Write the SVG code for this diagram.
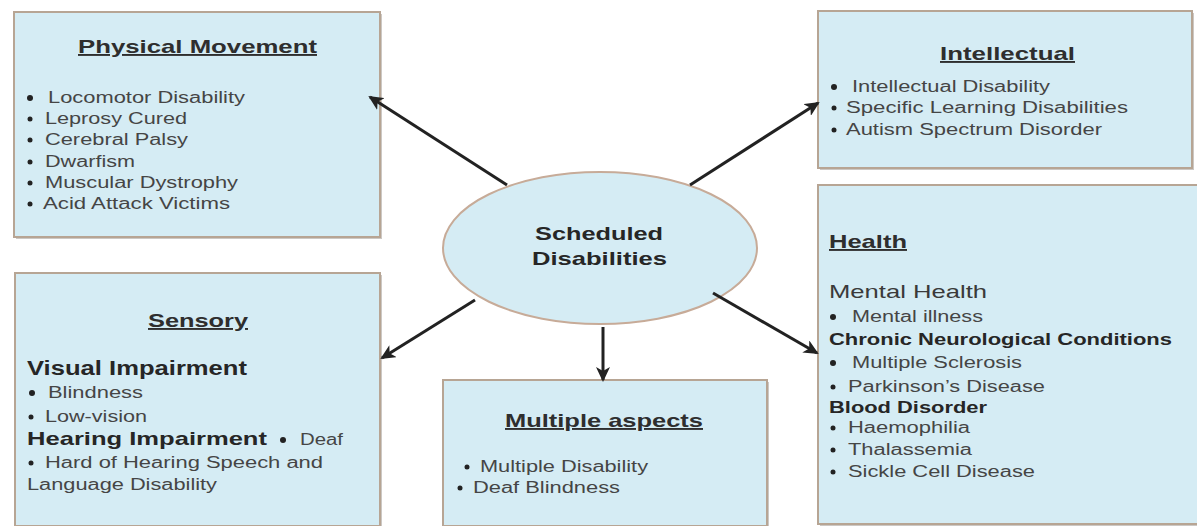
<svg xmlns="http://www.w3.org/2000/svg" width="1197" height="526" viewBox="0 0 1197 526">
<style>
.box{fill:#d5ecf4;stroke:#b7a594;stroke-width:2}
.sh{fill:#9a9189;opacity:0.5}
.t{font-family:"Liberation Sans",Arial,sans-serif;font-weight:bold;fill:#2e2e2e;text-decoration:underline}
.i{font-family:"Liberation Sans",Arial,sans-serif;fill:#454545;font-size:16px}
.h{font-family:"Liberation Sans",Arial,sans-serif;font-weight:bold;fill:#262626}
.b{fill:#222}
.c{stroke:#222;stroke-width:3;fill:none;marker-end:url(#ah)}
</style>
<defs>
<marker id="ah" markerWidth="15" markerHeight="14" refX="13" refY="7" orient="auto" markerUnits="userSpaceOnUse" viewBox="0 0 15 14">
<path d="M0,0 L15,7 L0,14 L4,7 Z" fill="#222"/>
</marker>
</defs>
<rect width="1197" height="526" fill="#ffffff"/>

<g id="physical">
<rect class="sh" x="16" y="14" width="366" height="225"/>
<rect class="box" x="14" y="12" width="366" height="225"/>
<text class="t" x="78" y="53" font-size="19" textLength="239" lengthAdjust="spacingAndGlyphs">Physical Movement</text>
<circle class="b" cx="30" cy="98" r="3"/><text class="i" x="48" y="103" textLength="197" lengthAdjust="spacingAndGlyphs">Locomotor Disability</text>
<circle class="b" cx="30" cy="119" r="2.5"/><text class="i" x="45" y="124" textLength="142" lengthAdjust="spacingAndGlyphs">Leprosy Cured</text>
<circle class="b" cx="30" cy="140" r="2.5"/><text class="i" x="45" y="145" textLength="143" lengthAdjust="spacingAndGlyphs">Cerebral Palsy</text>
<circle class="b" cx="30" cy="162" r="2.5"/><text class="i" x="45" y="167" textLength="90" lengthAdjust="spacingAndGlyphs">Dwarfism</text>
<circle class="b" cx="30" cy="183" r="2.5"/><text class="i" x="45" y="188" textLength="193" lengthAdjust="spacingAndGlyphs">Muscular Dystrophy</text>
<circle class="b" cx="30" cy="204" r="2.5"/><text class="i" x="43" y="209" textLength="187" lengthAdjust="spacingAndGlyphs">Acid Attack Victims</text>
</g>

<g id="intellectual">
<rect class="sh" x="820" y="13" width="374" height="157"/>
<rect class="box" x="818" y="11" width="374" height="157"/>
<text class="t" x="940" y="60" font-size="19" textLength="135" lengthAdjust="spacingAndGlyphs">Intellectual</text>
<circle class="b" cx="834" cy="87" r="3"/><text class="i" x="852" y="92" textLength="198" lengthAdjust="spacingAndGlyphs">Intellectual Disability</text>
<circle class="b" cx="834" cy="108" r="2.5"/><text class="i" x="846" y="113" textLength="282" lengthAdjust="spacingAndGlyphs">Specific Learning Disabilities</text>
<circle class="b" cx="834" cy="130" r="2.5"/><text class="i" x="846" y="135" textLength="256" lengthAdjust="spacingAndGlyphs">Autism Spectrum Disorder</text>
</g>

<g id="sensory">
<rect class="sh" x="17" y="275" width="365" height="253"/>
<rect class="box" x="15" y="273" width="365" height="253"/>
<text class="t" x="148" y="327" font-size="19" textLength="100" lengthAdjust="spacingAndGlyphs">Sensory</text>
<text class="h" x="27" y="375" font-size="20" textLength="220" lengthAdjust="spacingAndGlyphs">Visual Impairment</text>
<circle class="b" cx="32" cy="393" r="3"/><text class="i" x="48" y="398" textLength="95" lengthAdjust="spacingAndGlyphs">Blindness</text>
<circle class="b" cx="31" cy="417" r="2.5"/><text class="i" x="45" y="422" textLength="102" lengthAdjust="spacingAndGlyphs">Low-vision</text>
<text class="h" x="27" y="445" font-size="19" textLength="240" lengthAdjust="spacingAndGlyphs">Hearing Impairment</text>
<circle class="b" cx="283" cy="440" r="3"/><text class="i" x="300" y="445" textLength="43" lengthAdjust="spacingAndGlyphs">Deaf</text>
<circle class="b" cx="31" cy="463" r="2.5"/><text class="i" x="45" y="468" textLength="278" lengthAdjust="spacingAndGlyphs">Hard of Hearing Speech and</text>
<text class="i" x="27" y="490" textLength="190" lengthAdjust="spacingAndGlyphs">Language Disability</text>
</g>

<g id="multiple">
<rect class="sh" x="445" y="382" width="324" height="146"/>
<rect class="box" x="443" y="380" width="324" height="146"/>
<text class="t" x="505" y="427" font-size="19" textLength="198" lengthAdjust="spacingAndGlyphs">Multiple aspects</text>
<circle class="b" cx="467" cy="467" r="2.5"/><text class="i" x="480" y="472" textLength="168" lengthAdjust="spacingAndGlyphs">Multiple Disability</text>
<circle class="b" cx="460" cy="488" r="2.5"/><text class="i" x="473" y="493" textLength="147" lengthAdjust="spacingAndGlyphs">Deaf Blindness</text>
</g>

<g id="health">
<rect class="sh" x="820" y="187" width="377" height="341"/>
<rect class="box" x="818" y="185" width="380" height="339"/>
<text class="t" x="829" y="248" font-size="19" textLength="78" lengthAdjust="spacingAndGlyphs">Health</text>
<text x="829" y="298" font-family="Liberation Sans, Arial, sans-serif" font-size="19" fill="#3a3a3a" textLength="158" lengthAdjust="spacingAndGlyphs">Mental Health</text>
<circle class="b" cx="833" cy="317" r="3"/><text class="i" x="852" y="322" textLength="131" lengthAdjust="spacingAndGlyphs">Mental illness</text>
<text class="h" x="829" y="345" font-size="16" textLength="343" lengthAdjust="spacingAndGlyphs">Chronic Neurological Conditions</text>
<circle class="b" cx="833" cy="363" r="3"/><text class="i" x="852" y="368" textLength="170" lengthAdjust="spacingAndGlyphs">Multiple Sclerosis</text>
<circle class="b" cx="833" cy="387" r="2.5"/><text class="i" x="848" y="392" textLength="197" lengthAdjust="spacingAndGlyphs">Parkinson’s Disease</text>
<text class="h" x="829" y="413" font-size="16" textLength="158" lengthAdjust="spacingAndGlyphs">Blood Disorder</text>
<circle class="b" cx="833" cy="428" r="2.5"/><text class="i" x="848" y="433" textLength="122" lengthAdjust="spacingAndGlyphs">Haemophilia</text>
<circle class="b" cx="833" cy="450" r="2.5"/><text class="i" x="848" y="455" textLength="124" lengthAdjust="spacingAndGlyphs">Thalassemia</text>
<circle class="b" cx="833" cy="472" r="2.5"/><text class="i" x="848" y="477" textLength="187" lengthAdjust="spacingAndGlyphs">Sickle Cell Disease</text>
</g>

<g id="center">
<ellipse cx="600" cy="248" rx="157" ry="76" fill="#d5ecf4" stroke="#c7ab98" stroke-width="2"/>
<text class="h" x="535" y="240" font-size="19" fill="#333" textLength="128" lengthAdjust="spacingAndGlyphs">Scheduled</text>
<text class="h" x="532" y="265" font-size="19" fill="#333" textLength="135" lengthAdjust="spacingAndGlyphs">Disabilities</text>
</g>

<g id="connectors">
<line class="c" x1="507" y1="185" x2="370" y2="97"/>
<line class="c" x1="690" y1="185" x2="818" y2="103"/>
<line class="c" x1="475" y1="300" x2="382" y2="358"/>
<line class="c" x1="603" y1="327" x2="603" y2="380"/>
<line class="c" x1="713" y1="293" x2="817" y2="353"/>
</g>
</svg>
